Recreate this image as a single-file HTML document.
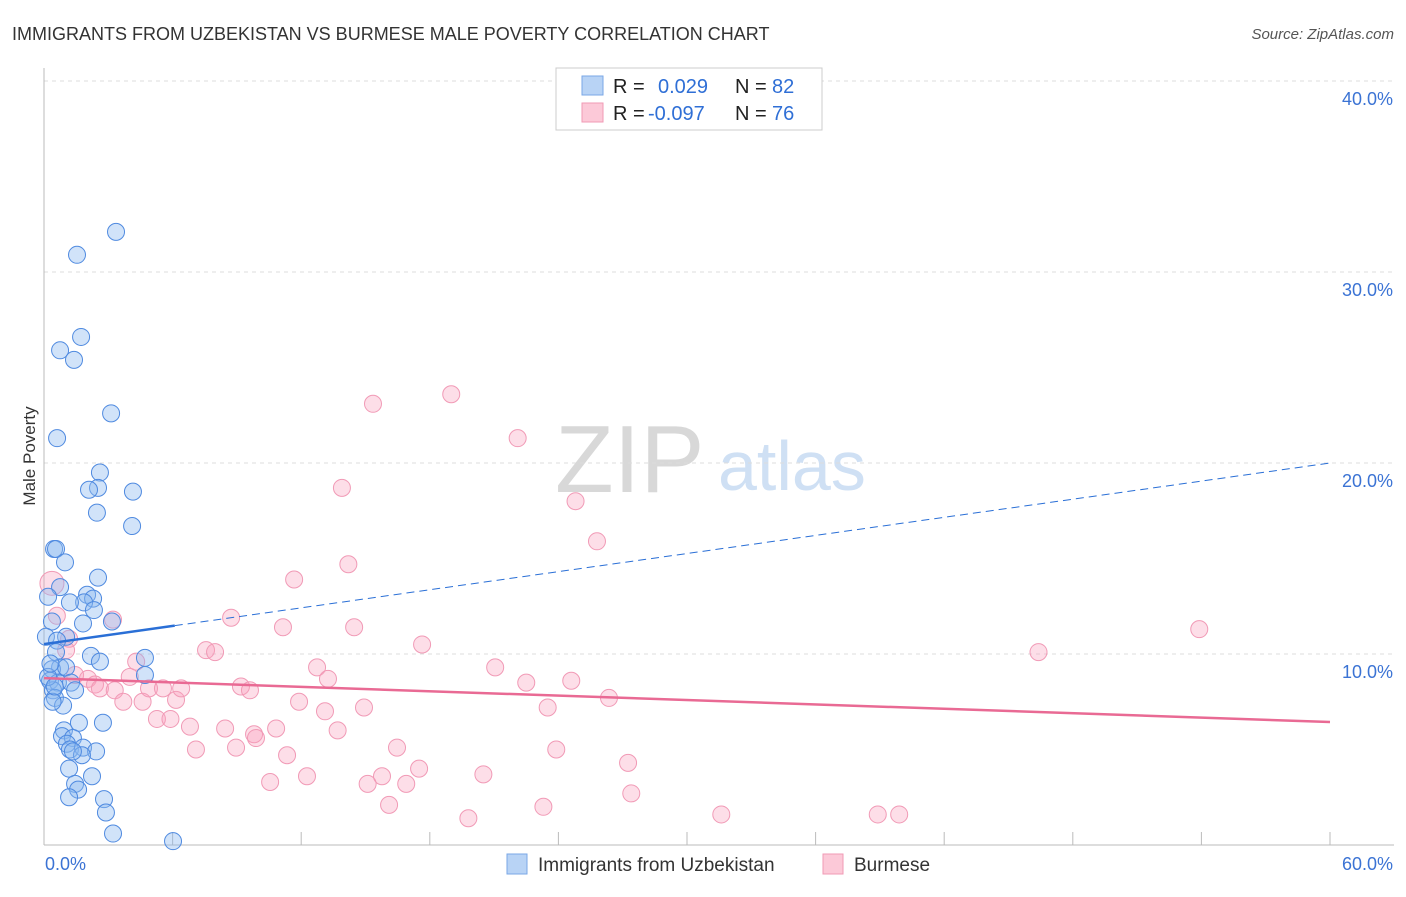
<!DOCTYPE html>
<html><head><meta charset="utf-8"><style>
body{margin:0;background:#fff;font-family:"Liberation Sans",sans-serif;}
svg text{font-family:"Liberation Sans",sans-serif;}
</style></head><body>
<svg id="c" width="1406" height="892">
<text x="12" y="40" font-size="18" fill="#333">IMMIGRANTS FROM UZBEKISTAN VS BURMESE MALE POVERTY CORRELATION CHART</text>
<text x="1394" y="39" font-size="15" fill="#555" font-style="italic" text-anchor="end">Source: ZipAtlas.com</text>
<text x="35" y="456" font-size="17" fill="#333" text-anchor="middle" transform="rotate(-90 35 456)">Male Poverty</text>
<text x="555" y="492" font-size="96" fill="#d8d8d8" font-family="Liberation Serif">ZIP</text>
<text x="718" y="490" font-size="70" fill="#cfe0f4">atlas</text>
<g id="grid"></g><g id="pts"></g><g id="trend"></g>
<g>
<rect x="556" y="68" width="266" height="62" fill="#fff" stroke="#ccc"/>
<rect x="582" y="76" width="21" height="19" fill="#b8d3f5" stroke="#7aa7e6"/>
<rect x="582" y="103" width="21" height="19" fill="#fcc9d8" stroke="#f09ab5"/>
<text x="613" y="93" font-size="20" fill="#222">R =</text><text x="658" y="93" font-size="20" fill="#2f6fd6">0.029</text>
<text x="735" y="93" font-size="20" fill="#222">N =</text><text x="772" y="93" font-size="20" fill="#2f6fd6">82</text>
<text x="613" y="120" font-size="20" fill="#222">R =</text><text x="648" y="120" font-size="20" fill="#2f6fd6">-0.097</text>
<text x="735" y="120" font-size="20" fill="#222">N =</text><text x="772" y="120" font-size="20" fill="#2f6fd6">76</text>
</g>
<g>
<rect x="507" y="854" width="20" height="20" fill="#b8d3f5" stroke="#7aa7e6"/>
<text x="538" y="871" font-size="19" fill="#333">Immigrants from Uzbekistan</text>
<rect x="823" y="854" width="20" height="20" fill="#fcc9d8" stroke="#f09ab5"/>
<text x="854" y="871" font-size="19" fill="#333">Burmese</text>
</g>
</svg>
<script>
const xTicks=[0,60];
const yTicks=[10,20,30,40];
const blueX=[3.36,1.54,1.73,0.75,1.40,3.13,0.61,2.61,2.52,2.10,4.15,2.47,4.11,0.47,0.56,0.98,2.52,0.75,0.19,2.01,2.29,1.87,1.21,1.82,2.33,3.17,0.37,1.03,0.09,0.61,2.19,2.61,4.71,0.56,0.75,0.37,1.03,0.28,0.65,1.26,0.42,1.45,4.71,0.51,0.89,1.63,2.75,0.93,0.84,1.35,1.07,1.21,1.82,2.43,1.77,1.35,1.17,2.24,1.45,1.59,1.17,2.80,2.89,3.22,6.02,0.19,0.3,0.4,0.5];
const blueY=[32.1,30.9,26.6,25.9,25.4,22.6,21.3,19.5,18.7,18.6,18.5,17.4,16.7,15.5,15.5,14.8,14.0,13.5,13.0,13.1,12.9,12.7,12.7,11.6,12.3,11.7,11.7,10.9,10.9,10.7,9.9,9.6,9.8,10.1,9.3,9.2,9.3,8.6,8.5,8.5,8.1,8.1,8.9,7.7,7.3,6.4,6.4,6.0,5.7,5.6,5.3,5.0,5.1,4.9,4.7,4.9,4.0,3.6,3.2,2.9,2.5,2.4,1.7,0.6,0.2,8.8,9.5,7.5,8.3];
const pinkX=[19.0,15.35,22.1,13.9,24.8,25.8,14.2,11.67,8.73,53.9,11.15,14.47,17.64,7.56,7.98,46.4,12.74,21.05,13.25,22.5,24.6,9.19,9.61,11.9,26.36,14.93,13.11,23.5,6.81,8.45,10.83,9.8,9.89,13.7,7.09,8.96,11.34,16.47,23.9,17.5,27.25,10.55,12.27,15.77,15.1,16.9,20.5,27.4,16.1,23.3,19.8,31.6,38.9,39.9,0.37,0.6,1.17,1.03,1.45,2.05,2.38,2.61,3.22,3.3,3.7,4.0,4.3,4.6,4.9,5.27,5.55,5.9,6.16,6.4];
const pinkY=[23.6,23.1,21.3,18.7,18.0,15.9,14.7,13.9,11.9,11.3,11.4,11.4,10.5,10.2,10.1,10.1,9.3,9.3,8.7,8.5,8.6,8.3,8.1,7.5,7.7,7.2,7.0,7.2,6.2,6.1,6.1,5.8,5.6,6.0,5.0,5.1,4.7,5.1,5.0,4.0,4.3,3.3,3.6,3.6,3.2,3.2,3.7,2.7,2.1,2.0,1.4,1.6,1.6,1.6,13.7,12.0,10.8,10.2,8.9,8.7,8.4,8.2,11.8,8.1,7.5,8.8,9.6,7.5,8.2,6.6,8.2,6.6,7.6,8.2];
const blueTrend=[10.52,20.0];
const pinkTrend=[8.74,6.44];
const NS='http://www.w3.org/2000/svg';
const sx=v=>44+v*1286/60, sy=v=>845-v*19.1;
function mk(t,a,p){const e=document.createElementNS(NS,t);for(const k in a)e.setAttribute(k,a[k]);p.appendChild(e);return e;}
const g=document.getElementById('grid');
yTicks.forEach(t=>{
 const l=mk('line',{x1:44,x2:1394,y1:sy(t),y2:sy(t),stroke:'#ddd','stroke-dasharray':'4,4'},g);
 
 
 const tx=mk('text',{x:1393,y:sy(t)+24,'font-size':18,fill:'#3b73d4','text-anchor':'end'},g);tx.textContent=t.toFixed(1)+'%';
 
 
});
mk('line',{x1:44,x2:44,y1:68,y2:845,stroke:'#bbb'},g);
mk('line',{x1:44,x2:1394,y1:845,y2:845,stroke:'#bbb'},g);
for(let i=1;i<=10;i++){const x=sx(i*6);mk('line',{x1:x,x2:x,y1:832,y2:845,stroke:'#bbb'},g);}
xTicks.forEach((t,i)=>{
 const tx=mk('text',{x:i?1393:45,y:870,'font-size':18,fill:'#3b73d4','text-anchor':i?'end':'start'},g);tx.textContent=t.toFixed(1)+'%';
 
 
});
const p=document.getElementById('pts');
pinkX.forEach((x,i)=>{const c=mk('circle',{cx:sx(x),cy:sy(pinkY[i]),r:i==54?12:8.5,fill:'rgba(248,160,190,0.35)',stroke:'#f19ab6','stroke-width':1},p);
 
 });
blueX.forEach((x,i)=>{const c=mk('circle',{cx:sx(x),cy:sy(blueY[i]),r:8.5,fill:'rgba(140,185,240,0.4)',stroke:'#4f8ae0','stroke-width':1},p);
 
 });
const tr=document.getElementById('trend');
const bAt=v=>blueTrend[0]+(blueTrend[1]-blueTrend[0])*v/60;
let l1=mk('line',{x1:sx(0),y1:sy(bAt(0)),x2:sx(6.1),y2:sy(bAt(6.1)),stroke:'#2a6fd6','stroke-width':2.5},tr);


let l2=mk('line',{x1:sx(6.1),y1:sy(bAt(6.1)),x2:sx(60),y2:sy(bAt(60)),stroke:'#2a6fd6','stroke-width':1,'stroke-dasharray':'8,5'},tr);


let l3=mk('line',{x1:sx(0),y1:sy(pinkTrend[0]),x2:sx(60),y2:sy(pinkTrend[1]),stroke:'#e96a94','stroke-width':2.5},tr);


</script>
</body></html>
